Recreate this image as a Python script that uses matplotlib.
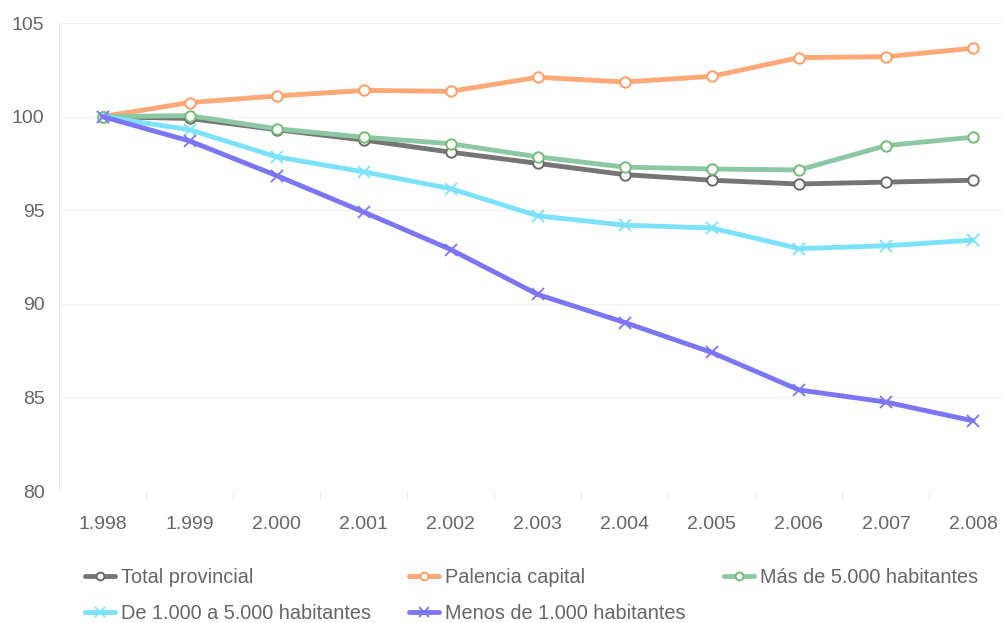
import matplotlib
matplotlib.use("Agg")
from matplotlib import pyplot as plt

plt.rcParams['font.family'] = ['Liberation Sans', 'DejaVu Sans']

years = ['1.998', '1.999', '2.000', '2.001', '2.002', '2.003',
         '2.004', '2.005', '2.006', '2.007', '2.008']

total_provincial = [100, 99.9, 99.3, 98.75, 98.1, 97.5, 96.9, 96.6, 96.4, 96.5, 96.6]
palencia_capital = [100, 100.75, 101.1, 101.4, 101.35, 102.1, 101.85, 102.15, 103.15, 103.2, 103.65]
mas_5000 = [100, 100.05, 99.35, 98.9, 98.55, 97.85, 97.3, 97.2, 97.15, 98.45, 98.9]
de_1000_5000 = [100, 99.3, 97.85, 97.05, 96.15, 94.7, 94.2, 94.05, 92.95, 93.1, 93.4]
menos_1000 = [100, 98.7, 96.85, 94.9, 92.9, 90.5, 89.0, 87.4, 85.4, 84.75, 83.75]

labels = ['Total provincial', 'Palencia capital', 'Más de 5.000 habitantes',
          'De 1.000 a 5.000 habitantes', 'Menos de 1.000 habitantes']
series = [total_provincial, palencia_capital, mas_5000, de_1000_5000, menos_1000]
line_colors = ['#757575', '#ffa878', '#8dc8a4', '#7ce2fa', '#7c76f6']
marker_colors = ['#6a6a6a', '#ff9d68', '#76bb76', '#7ce2fa', '#7c76f6']
markers = ['o', 'o', 'o', 'x', 'x']

fig = plt.figure(figsize=(10.03, 6.23), dpi=100)
ax = fig.add_axes([59/1003, 1-491/623, 1-59/1003, (491-23)/623])

x = list(range(len(years)))
handles = []
for vals, lab, lc, mc, mk in zip(series, labels, line_colors, marker_colors, markers):
	if mk == 'o':
		h, = ax.plot(x, vals, color=lc, lw=3.5, marker='o', markersize=7.5,
					 markerfacecolor='white', markeredgecolor=mc, markeredgewidth=1.4,
					 label=lab, solid_capstyle='round')
	else:
		h, = ax.plot(x, vals, color=lc, lw=3.5, marker='x', markersize=9,
					 markeredgecolor=mc, markeredgewidth=1.3, label=lab,
					 solid_capstyle='round')
	handles.append(h)

ax.set_ylim(80, 105)
ax.set_yticks([80, 85, 90, 95, 100, 105])
ax.set_xlim(-0.5, (1003-102)/87.1)
ax.set_xticks(x)
ax.set_xticklabels(years)
ax.set_xticks([i + 0.5 for i in x[:-1]], minor=True)

for s in ['top', 'right', 'bottom']:
	ax.spines[s].set_visible(False)
ax.spines['left'].set_color('#e8e8e8')
ax.grid(axis='y', color='#f2f2f2', lw=1)
ax.set_axisbelow(True)

ax.tick_params(axis='y', length=0, pad=10.5, labelsize=14, labelcolor='#666666')
ax.tick_params(axis='x', which='major', length=0, pad=18, labelsize=14, labelcolor='#666666')
ax.tick_params(axis='x', which='minor', length=6, color='#e6e6e6', direction='out')

# legend filled row by row
order = [0, 3, 1, 4, 2]
fig.legend([handles[i] for i in order], [labels[i] for i in order],
		   ncol=3, loc='upper left', bbox_to_anchor=(85/1003, 1-568/623),
		   frameon=False, fontsize=14.3, labelcolor='#666666',
		   handlelength=1.5, handletextpad=0.3, columnspacing=1.95,
		   labelspacing=0.85, markerscale=0.75, borderaxespad=0, borderpad=0)

fig.savefig('out.png', dpi=100)
